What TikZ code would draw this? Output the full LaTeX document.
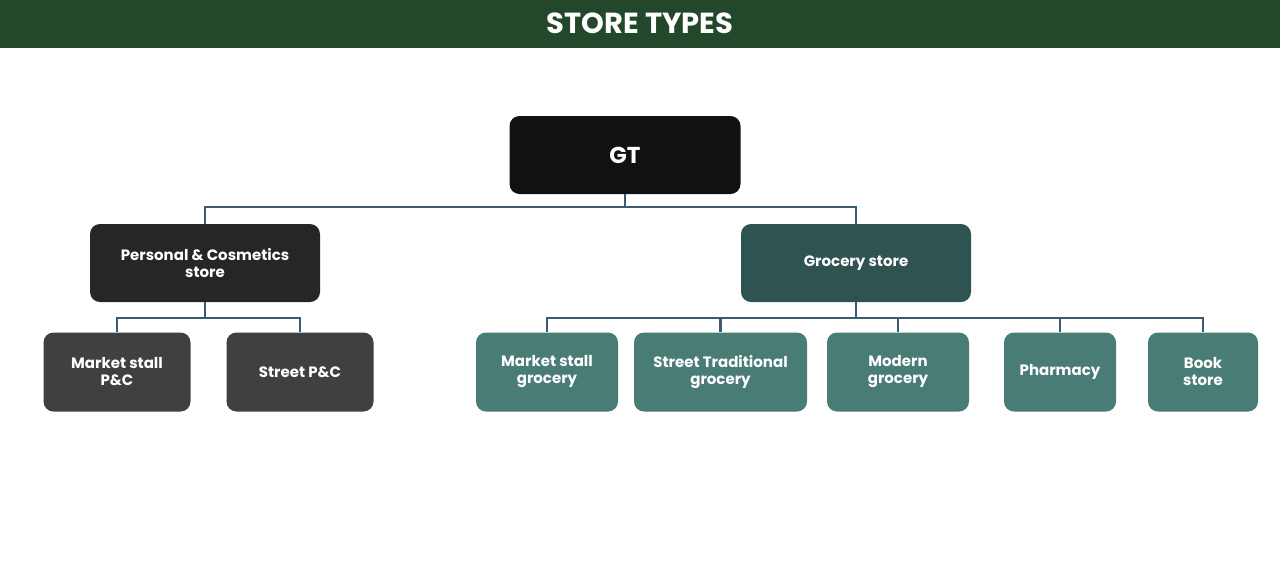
\documentclass[tikz,border=0pt]{standalone}
\usepackage{fontspec}
\setmainfont{Poppins}
\definecolor{hdr}{HTML}{22472A}
\definecolor{gtc}{HTML}{111111}
\definecolor{pcc}{HTML}{262626}
\definecolor{grc}{HTML}{2F5350}
\definecolor{lch}{HTML}{404040}
\definecolor{rch}{HTML}{4A7C76}
\definecolor{lnc}{HTML}{3B5B73}
\begin{document}
\begin{tikzpicture}[x=1pt,y=-1pt,
  box/.style={rounded corners=10pt,text=white,font=\bfseries\fontsize{15}{17}\selectfont,align=center,inner sep=0pt,minimum height=79pt},
  conn/.style={draw=lnc,line width=2.6pt}]
\useasboundingbox (0,0) rectangle (1280,582);
\fill[white] (0,0) rectangle (1280,582);
\fill[hdr] (0,0) rectangle (1280,48);
\node[text=white,font=\bfseries\fontsize{29}{32}\selectfont] (title) at (640,23) {STORE TYPES};
\node[box,fill=gtc,minimum width=231pt,minimum height=78pt,font=\bfseries\fontsize{23}{26}\selectfont] (gt) at (625,155) {GT};
\node[box,fill=pcc,minimum width=230pt,minimum height=78pt] (pc) at (205,263) {Personal \& Cosmetics\\store};
\node[box,fill=grc,minimum width=230pt,minimum height=78pt] (gr) at (856,263) {Grocery store};
\node[box,fill=lch,minimum width=147pt] (l1) at (117,372) {Market stall\\P\&C};
\node[box,fill=lch,minimum width=147pt] (l2) at (300,372) {Street P\&C};
\node[box,fill=rch,minimum width=142pt] (r1) at (547,372) {Market stall\\grocery};
\node[box,fill=rch,minimum width=173pt] (r2) at (720.5,372) {Street Traditional\\grocery};
\node[box,fill=rch,minimum width=142pt] (r3) at (898,372) {Modern\\grocery};
\node[box,fill=rch,minimum width=112pt] (r4) at (1060,372) {Pharmacy};
\node[box,fill=rch,minimum width=110pt] (r5) at (1203,372) {Book\\store};
\coordinate (j0) at (625,207);
\coordinate (j1) at (205,318);
\coordinate (j2) at (856,318);
\begin{scope}[on background layer/.try]
\end{scope}
\draw[conn] (gt.south) -- (j0);
\draw[conn] (pc.north) -- (pc.north |- j0) -- (gr.north |- j0) -- (gr.north);
\draw[conn] (pc.south) -- (j1);
\draw[conn] (l1.north) -- (l1.north |- j1) -- (l2.north |- j1) -- (l2.north);
\draw[conn] (gr.south) -- (j2);
\draw[conn] (r1.north) -- (r1.north |- j2) -- (r5.north |- j2) -- (r5.north);
\draw[conn] (r2.north |- j2) -- (r2.north);
\draw[conn] (r3.north |- j2) -- (r3.north);
\draw[conn] (r4.north |- j2) -- (r4.north);
\end{tikzpicture}
\end{document}
